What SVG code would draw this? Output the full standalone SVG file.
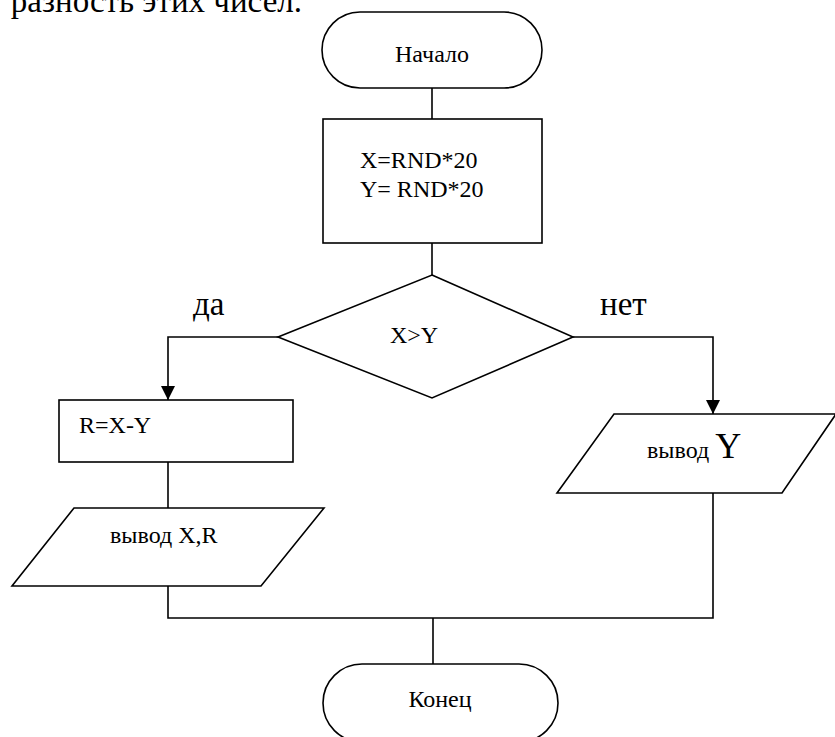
<svg xmlns="http://www.w3.org/2000/svg" width="835" height="737" viewBox="0 0 835 737">
<style>
.s{fill:#fff;stroke:#000;stroke-width:1.6}
.c{fill:none;stroke:#000;stroke-width:1.6}
.t{font-family:"Liberation Serif","Times New Roman",serif;font-size:24px;fill:#000}
.b{font-family:"Liberation Serif","Times New Roman",serif;font-size:33px;fill:#000}
</style>
<defs>
<marker id="arr" markerUnits="userSpaceOnUse" markerWidth="16" markerHeight="16" viewBox="0 0 16 16" refX="14" refY="8" orient="auto">
<path d="M0,1 L14,8 L0,15 Z" fill="#000"/>
</marker>
</defs>
<rect width="835" height="737" fill="#fff"/>
<text class="b" x="302" y="12" text-anchor="end" font-size="32">разность этих чисел.</text>
<g id="connectors">
<path class="c" d="M432,88 V119"/>
<path class="c" d="M432,243 V275"/>
<path class="c" d="M278,337 H168 V400" marker-end="url(#arr)"/>
<path class="c" d="M573,337 H713 V414" marker-end="url(#arr)"/>
<path class="c" d="M168,462 V508"/>
<path class="c" d="M168,586 V618 H713 V493"/>
<path class="c" d="M433,618 V664"/>
</g>
<g id="start">
<rect class="s" x="322" y="12" width="220" height="76" rx="38" ry="38"/>
<text class="t" x="432" y="62" text-anchor="middle">Начало</text>
</g>
<g id="init">
<rect class="s" x="323" y="119" width="219" height="124"/>
<text class="t" x="360" y="168">X=RND*20</text>
<text class="t" x="360" y="197">Y= RND*20</text>
</g>
<g id="cond">
<polygon class="s" points="432,275 573,337 432,398 278,337"/>
<text class="t" x="414" y="343" text-anchor="middle">X&gt;Y</text>
</g>
<text class="b" x="193" y="315">да</text>
<text class="b" x="600" y="315">нет</text>
<g id="calc">
<rect class="s" x="59" y="400" width="234" height="62"/>
<text class="t" x="79" y="433">R=X-Y</text>
</g>
<g id="outXR">
<polygon class="s" points="74,508 324,508 261,586 12,586"/>
<text class="t" x="110" y="543">вывод X,R</text>
</g>
<g id="outY">
<polygon class="s" points="614,414 836,414 782,493 557,493"/>
<text class="t" x="647" y="458">вывод <tspan font-size="36">Y</tspan></text>
</g>
<g id="end">
<rect class="s" x="323" y="664" width="235" height="78" rx="39" ry="39"/>
<text class="t" x="440" y="707" text-anchor="middle">Конец</text>
</g>
</svg>
